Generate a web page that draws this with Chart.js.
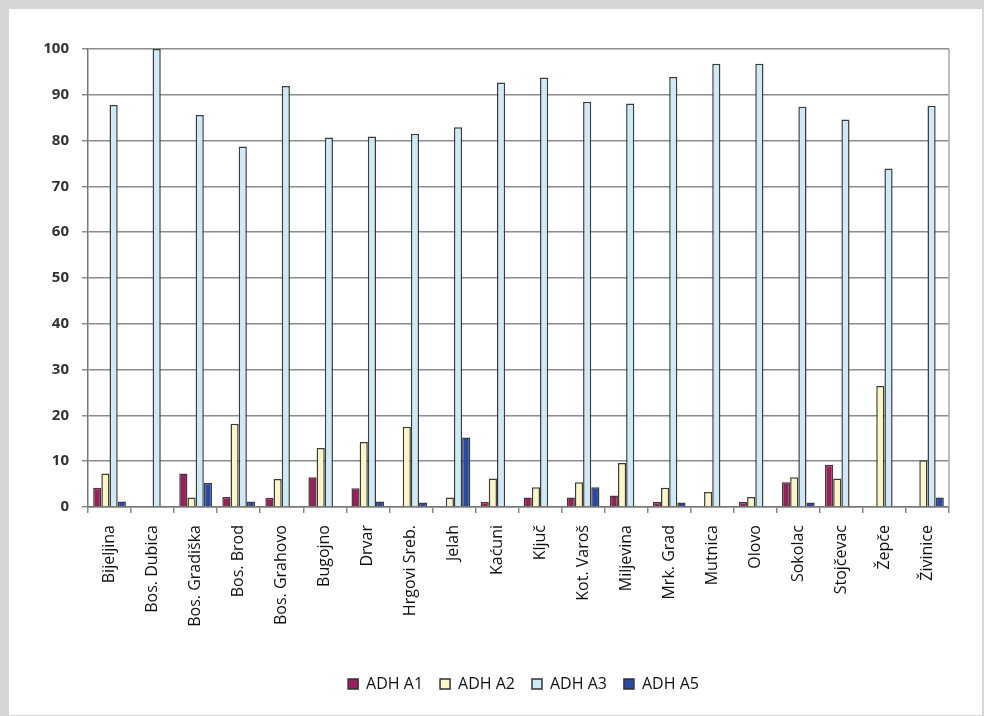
<!DOCTYPE html>
<html>
<head>
<meta charset="utf-8">
<script src="https://cdn.jsdelivr.net/npm/chart.js@4/dist/chart.umd.min.js"></script>
<style>
html,body{margin:0;padding:0;background:#fff;}
#wrap{width:984px;height:716px;position:relative;}
</style>
</head>
<body>
<div id="wrap"><canvas id="c" width="984" height="716"></canvas></div>
<script>
const categories = ["Bijeljina","Bos. Dubica","Bos. Gradiška","Bos. Brod","Bos. Grahovo","Bugojno","Drvar","Hrgovi Sreb.","Jelah","Kaćuni","Ključ","Kot. Varoš","Miljevina","Mrk. Grad","Mutnica","Olovo","Sokolac","Stojčevac","Žepče","Živinice"];
const adhA1 = [4.2, 0, 7.3, 2.2, 2.0, 6.5, 4.1, 0, 0, 1.1, 2.1, 2.1, 2.5, 1.1, 0, 1.1, 5.4, 9.2, 0, 0];
const adhA2 = [7.3, 0, 2.1, 18.2, 6.1, 12.9, 14.2, 17.5, 2.1, 6.2, 4.3, 5.4, 9.6, 4.2, 3.3, 2.2, 6.5, 6.2, 26.4, 10.2];
const adhA3 = [87.8, 100, 85.6, 78.7, 91.9, 80.7, 80.9, 81.5, 82.9, 92.7, 93.8, 88.5, 88.1, 93.9, 96.8, 96.8, 87.4, 84.6, 73.9, 87.6];
const adhA5 = [1.2, 0, 5.3, 1.2, 0, 0, 1.2, 1.0, 15.2, 0, 0, 4.3, 0, 1.0, 0, 0, 1.0, 0, 0, 2.1];
const seriesNames = ["ADH A1","ADH A2","ADH A3","ADH A5"];
const yTicks = [0,10,20,30,40,50,60,70,80,90,100];

const frame = {
  id:'frame',
  beforeDraw(chart){
    const c = chart.ctx;
    c.save();
    c.fillStyle = '#d6d6d6';
    c.fillRect(0,0,chart.width,chart.height);
    c.fillStyle = '#ffffff';
    c.fillRect(9,9,chart.width-11,chart.height-10);
    c.restore();
  },
  afterLayout(chart){
    if (chart.legend) { chart.legend.left += 44; chart.legend.right += 44; }
  },
  afterDatasetsDraw(chart){
    const c = chart.ctx, a = chart.chartArea;
    c.save();
    c.strokeStyle = '#a8a8a8';
    c.lineWidth = 1.5;
    c.beginPath();
    c.moveTo(a.right, a.top);
    c.lineTo(a.right, a.bottom);
    c.stroke();
    c.restore();
  }
};

const border = '#3c3c3c';
new Chart(document.getElementById('c'), {
  type:'bar',
  data:{
    labels:categories,
    datasets:[
      {label:seriesNames[0], data:adhA1, backgroundColor:'#9c1f5c', borderColor:border, borderWidth:1.5},
      {label:seriesNames[1], data:adhA2, backgroundColor:'#fbf6c4', borderColor:border, borderWidth:1.5},
      {label:seriesNames[2], data:adhA3, backgroundColor:'#cdebf6', borderColor:border, borderWidth:1.5},
      {label:seriesNames[3], data:adhA5, backgroundColor:'#2849a8', borderColor:border, borderWidth:1.5}
    ]
  },
  options:{
    responsive:false,
    animation:false,
    devicePixelRatio:1,
    layout:{padding:{left:10, right:35, top:49, bottom:14}},
    datasets:{bar:{categoryPercentage:0.76, barPercentage:1.0}},
    plugins:{
      tooltip:{enabled:false},
      legend:{
        position:'bottom',
        labels:{
          boxWidth:10, boxHeight:10, padding:17,
          color:'#111',
          font:{family:'"Open Sans", sans-serif', size:16},
          generateLabels(chart){
            return chart.data.datasets.map((d,i)=>({
              text:d.label, fillStyle:d.backgroundColor, strokeStyle:'#333',
              lineWidth:1.5, hidden:false, datasetIndex:i, fontColor:'#111'
            }));
          }
        }
      }
    },
    scales:{
      x:{
        grid:{drawOnChartArea:false, color:'#888', lineWidth:1.5, tickLength:6, offset:true},
        border:{color:'#777', width:1.5},
        ticks:{
          minRotation:90, maxRotation:90, autoSkip:false, padding:12,
          color:'#111',
          font:{family:'"Open Sans", sans-serif', size:16}
        },
        afterFit(s){ s.height = 152; }
      },
      y:{
        min:0, max:100,
        afterBuildTicks(s){ s.ticks = yTicks.map(v=>({value:v})); },
        grid:{color:'#8c8c8c', lineWidth:1.5, tickLength:6},
        border:{color:'#777', width:1.5},
        ticks:{
          padding:13, color:'#333',
          font:{family:'"Open Sans", sans-serif', size:15, weight:'bold'}
        },
        afterFit(s){ s.width = 78; }
      }
    }
  },
  plugins:[frame]
});
</script>
</body>
</html>
